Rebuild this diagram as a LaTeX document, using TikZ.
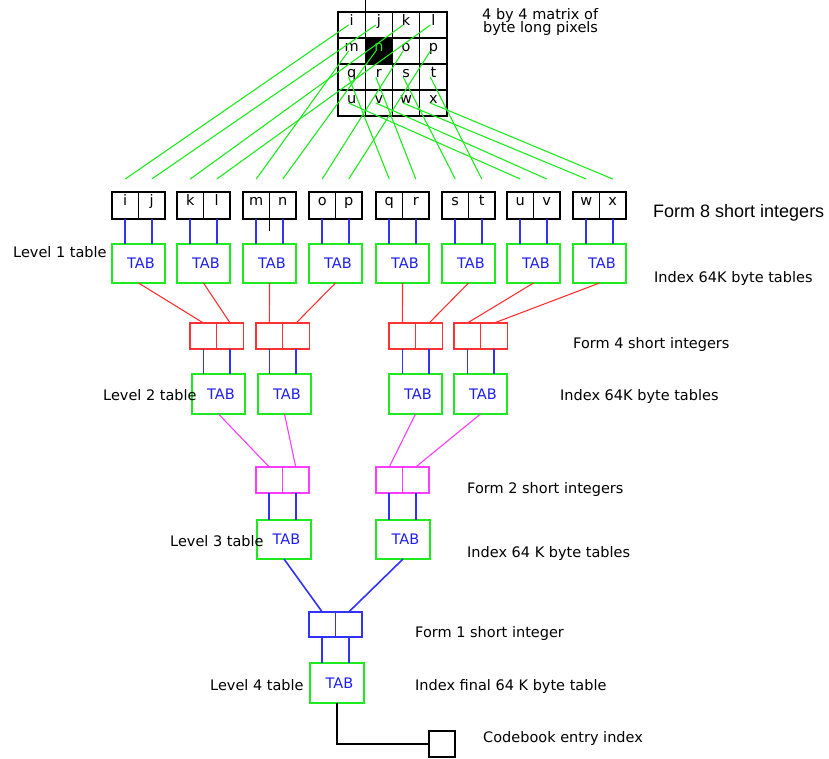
\documentclass[tikz,border=0pt]{standalone}
\usepackage{fontspec}
\setmainfont{DejaVu Sans}
\newfontfamily\arialfont{Liberation Sans}
\definecolor{gline}{RGB}{30,235,30}
\definecolor{rline}{RGB}{255,50,50}
\definecolor{mline}{RGB}{255,60,255}
\definecolor{bline}{RGB}{50,50,255}
\definecolor{tabtext}{RGB}{30,30,240}
\begin{document}
\begin{tikzpicture}[x=1pt,y=-1pt,
  txt/.style={font=\fontsize{14.5}{16}\selectfont},
  cellbox/.style={draw=black, line width=1.4pt, minimum width=26.5pt, minimum height=27pt, inner sep=0pt, outer sep=0pt},
  mcell/.style={draw=black, line width=1.3pt, minimum width=27.25pt, minimum height=26pt, inner sep=0pt, outer sep=0pt},
  redcell/.style={draw=rline, line width=1.4pt, minimum width=26.75pt, minimum height=26pt, inner sep=0pt, outer sep=0pt},
  magcell/.style={draw=mline, line width=1.4pt, minimum width=26.5pt, minimum height=26pt, inner sep=0pt, outer sep=0pt},
  bluecell/.style={draw=bline, line width=1.4pt, minimum width=26.5pt, minimum height=25pt, inner sep=0pt, outer sep=0pt},
  tabbox/.style={draw=gline, line width=1.4pt, minimum width=53pt, minimum height=39pt, inner sep=0pt, outer sep=0pt, text=tabtext, txt},
  letter/.style={anchor=base, inner sep=0pt, txt},
  lbl/.style={anchor=base west, inner sep=0pt, txt},
  gconn/.style={draw=gline, line width=1.1pt},
  rconn/.style={draw=rline, line width=1.1pt},
  mconn/.style={draw=mline, line width=1.1pt},
  bconn/.style={draw=bline, line width=1.6pt},
  kconn/.style={draw=black, line width=1.4pt}
]
\useasboundingbox (0,0) rectangle (829,758);

% 4x4 matrix
\foreach \c/\r/\n in {0/0/i,1/0/j,2/0/k,3/0/l,0/1/m,2/1/o,3/1/p,0/2/q,1/2/r,2/2/s,3/2/t,0/3/u,1/3/v,2/3/w,3/3/x}{
  \node[mcell] (m\n) at (351.6+27.25*\c, 25+26*\r) {};
  \node[letter] (ml\n) at ([yshift=-13pt]m\n.north) {\n};
}
\node[mcell, fill=black] (mn) at (351.6+27.25, 51) {};
\node[letter, text=gline] (mln) at ([yshift=-13pt]mn.north) {n};
\draw[kconn] (mj.north west) -- ++(0,-12);

\node[lbl] (mat1) at (482,19) {4 by 4 matrix of};
\node[lbl] (mat2) at (483,32) {byte long pixels};

% level 1
\foreach \L/\a/\b [count=\k] in {112/i/j,177/k/l,243/m/n,309/o/p,376/q/r,442/s/t,507/u/v,573/w/x}{
  \node[cellbox] (c\a) at (\L+13.25,205.5) {};
  \node[cellbox] (c\b) at (\L+39.75,205.5) {};
  \node[letter] (l\a) at ([yshift=-13pt]c\a.north) {\a};
  \node[letter] (l\b) at ([yshift=-13pt]c\b.north) {\b};
  \node[tabbox] (t1\k) at (\L+26.5,263.5) {\kern5pt TAB};
  \draw[bconn] (c\a.south) -- (c\a.south |- t1\k.north);
  \draw[bconn] (c\b.south) -- (c\b.south |- t1\k.north);
  \draw[gconn] ([yshift=13pt]c\a.north) -- ([xshift=-3pt]m\a.center);
  \draw[gconn] ([yshift=13pt]c\b.north) -- ([xshift=-3pt]m\b.center);
}
\draw[kconn] (cm.south east) -- ++(0,12);

\node[font=\arialfont\fontsize{18}{20}\selectfont, anchor=base west, inner sep=0pt] (f8) at (653,217) {Form 8 short integers};
\node[lbl] (lv1) at (13,257) {Level 1 table};
\node[lbl] (ix1) at (654,282) {Index 64K byte tables};

% level 2
\foreach \L [count=\k] in {190,256,389,454}{
  \node[redcell] (r\k a) at (\L+13.4,336) {};
  \node[redcell] (r\k b) at (\L+40.1,336) {};
}
\foreach \L [count=\k] in {192,258,389,454}{
  \node[tabbox, minimum height=40pt] (t2\k) at (\L+26.5,394) {\kern5pt TAB};
  \draw[bconn] (r\k a.south) -- (r\k a.south |- t2\k.north);
  \draw[bconn] (r\k b.south) -- (r\k b.south |- t2\k.north);
}
\draw[rconn] (t11.south) -- (r1a.north);
\draw[rconn] (t12.south) -- (r1b.north);
\draw[rconn] (t13.south) -- (r2a.north);
\draw[rconn] (t14.south) -- (r2b.north);
\draw[rconn] (t15.south) -- (r3a.north);
\draw[rconn] (t16.south) -- (r3b.north);
\draw[rconn] (t17.south) -- (r4a.north);
\draw[rconn] (t18.south) -- (r4b.north);

\node[lbl] (f4) at (573,348) {Form 4 short integers};
\node[lbl] (lv2) at (103,400) {Level 2 table};
\node[lbl] (ix2) at (560,400) {Index 64K byte tables};

% level 3
\foreach \L [count=\k] in {256,376}{
  \node[magcell] (g\k a) at (\L+13.25,480) {};
  \node[magcell] (g\k b) at (\L+39.75,480) {};
}
\foreach \L [count=\k] in {257,376}{
  \node[tabbox, minimum width=54pt] (t3\k) at (\L+27,539.5) {\kern5pt TAB};
  \draw[bconn] (g\k a.south) -- (g\k a.south |- t3\k.north);
  \draw[bconn] (g\k b.south) -- (g\k b.south |- t3\k.north);
}
\draw[mconn] (t21.south) -- (g1a.north);
\draw[mconn] (t22.south) -- (g1b.north);
\draw[mconn] (t23.south) -- (g2a.north);
\draw[mconn] (t24.south) -- (g2b.north);

\node[lbl] (f2) at (467,493) {Form 2 short integers};
\node[lbl] (lv3) at (170,546) {Level 3 table};
\node[lbl] (ix3) at (467,557) {Index 64 K byte tables};

% level 4
\node[bluecell] (b1a) at (322.25,624.5) {};
\node[bluecell] (b1b) at (348.75,624.5) {};
\draw[bconn] (t31.south) -- (b1a.north);
\draw[bconn] (t32.south) -- (b1b.north);
\node[tabbox, minimum width=54pt, minimum height=40pt] (t41) at (337,683) {\kern5pt TAB};
\draw[bconn] (b1a.south) -- (b1a.south |- t41.north);
\draw[bconn] (b1b.south) -- (b1b.south |- t41.north);

\node[draw=black, line width=1.4pt, minimum width=26pt, minimum height=26pt, inner sep=0pt, outer sep=0pt] (sq) at (442,744) {};
\draw[kconn] (t41.south) |- (sq.west);

\node[lbl] (f1) at (415,637) {Form 1 short integer};
\node[lbl] (lv4) at (210,690) {Level 4 table};
\node[lbl] (ix4) at (415,690) {Index final 64 K byte table};
\node[lbl] (cb) at (483,742) {Codebook entry index};
\end{tikzpicture}
\end{document}
